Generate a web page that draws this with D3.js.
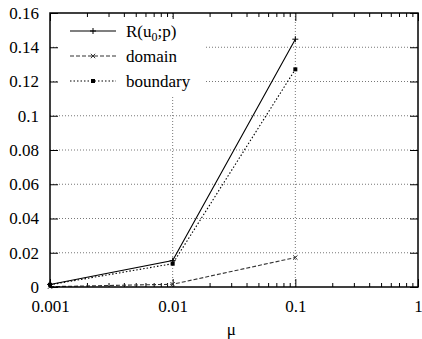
<!DOCTYPE html>
<html>
<head>
<meta charset="utf-8">
<script src="https://cdn.jsdelivr.net/npm/d3@7"></script>
<style>
  body { margin: 0; background: #fff; }
</style>
</head>
<body>
<div id="chart"></div>
<script>
// values
var mu = [0.001, 0.01, 0.1];
var rValues = [0.0015, 0.0154, 0.1447];
var domainValues = [0.0002, 0.0016, 0.0172];
var boundaryValues = [0.0013, 0.0136, 0.1271];
var seriesNames = ["R(u0;p)", "domain", "boundary"];
var xTicks = [0.001, 0.01, 0.1, 1];
var yTicks = [0, 0.02, 0.04, 0.06, 0.08, 0.1, 0.12, 0.14, 0.16];

var serif = "Liberation Serif";
var fontSize = 17;

var margin = {top: 13, right: 4, bottom: 52, left: 50},
    width = 422 - margin.left - margin.right,
    height = 339 - margin.top - margin.bottom;

var svg = d3.select("#chart")
  .append("svg")
  .attr("width", width + margin.left + margin.right)
  .attr("height", height + margin.top + margin.bottom)
  .append("g")
  .attr("transform", "translate(" + margin.left + "," + margin.top + ")");

var x = d3.scaleLog().domain([0.001, 1]).range([0, width]);
var y = d3.scaleLinear().domain([0, 0.16]).range([height, 0]);

// grid
svg.append("g").selectAll("line")
  .data(yTicks.filter(function(d) { return d > 0 && d < 0.16; }))
  .enter().append("line")
    .attr("x1", 0).attr("x2", width)
    .attr("y1", function(d) { return y(d); })
    .attr("y2", function(d) { return y(d); })
    .attr("stroke", "#777").attr("stroke-width", 1)
    .attr("stroke-dasharray", "1,2");
svg.append("g").selectAll("line")
  .data([0.01, 0.1])
  .enter().append("line")
    .attr("y1", 0).attr("y2", height)
    .attr("x1", function(d) { return x(d); })
    .attr("x2", function(d) { return x(d); })
    .attr("stroke", "#777").attr("stroke-width", 1)
    .attr("stroke-dasharray", "1,2");

// minor x ticks
var minor = [];
[0.001, 0.01, 0.1].forEach(function(dec) {
  for (var k = 2; k <= 9; k++) minor.push(dec * k);
});

// axes (ticks inward, mirrored)
var fmt = function(d) { return d3.format("~g")(d); };
svg.append("g")
  .attr("transform", "translate(0," + height + ")")
  .call(d3.axisBottom(x).tickValues(xTicks).tickFormat(fmt).tickSizeInner(-8).tickSizeOuter(0).tickPadding(13));
svg.append("g")
  .call(d3.axisTop(x).tickValues(xTicks).tickFormat("").tickSizeInner(-8).tickSizeOuter(0));
svg.append("g")
  .attr("transform", "translate(0," + height + ")")
  .call(d3.axisBottom(x).tickValues(minor).tickFormat("").tickSizeInner(-4).tickSizeOuter(0));
svg.append("g")
  .call(d3.axisTop(x).tickValues(minor).tickFormat("").tickSizeInner(-4).tickSizeOuter(0));
svg.append("g")
  .call(d3.axisLeft(y).tickValues(yTicks).tickFormat(fmt).tickSizeInner(-8).tickSizeOuter(0).tickPadding(11));
svg.append("g")
  .attr("transform", "translate(" + width + ",0)")
  .call(d3.axisRight(y).tickValues(yTicks).tickFormat("").tickSizeInner(-8).tickSizeOuter(0));

svg.selectAll(".domain").remove();
svg.selectAll(".tick line").attr("stroke", "#000");
svg.selectAll("g").attr("font-family", serif).attr("font-size", fontSize);
svg.selectAll(".tick text").attr("fill", "#000");

// legend background (covers grid)
svg.append("rect")
  .attr("x", 8).attr("y", 6).attr("width", 148).attr("height", 78)
  .attr("fill", "#fff");

// lines
var series = [
  {values: rValues, dash: null, color: "#000", marker: "plus"},
  {values: domainValues, dash: "4,2", color: "#333", marker: "cross"},
  {values: boundaryValues, dash: "1.5,2", color: "#000", marker: "square"}
];

var line = d3.line()
  .x(function(d) { return x(d[0]); })
  .y(function(d) { return y(d[1]); });

function drawMarker(g, kind, cx, cy, color) {
  if (kind === "plus") {
    g.append("path").attr("d", "M" + (cx - 3) + "," + cy + "H" + (cx + 3) + "M" + cx + "," + (cy - 3) + "V" + (cy + 3))
      .attr("stroke", color).attr("stroke-width", 1).attr("fill", "none");
  } else if (kind === "cross") {
    g.append("path").attr("d", "M" + (cx - 2.2) + "," + (cy - 2.2) + "L" + (cx + 2.2) + "," + (cy + 2.2) +
        "M" + (cx - 2.2) + "," + (cy + 2.2) + "L" + (cx + 2.2) + "," + (cy - 2.2))
      .attr("stroke", color).attr("stroke-width", 1).attr("fill", "none");
  } else {
    g.append("rect").attr("x", cx - 2).attr("y", cy - 2).attr("width", 4).attr("height", 4)
      .attr("fill", color);
  }
}

series.forEach(function(s, i) {
  var pts = mu.map(function(m, j) { return [m, s.values[j]]; });
  svg.append("path")
    .datum(pts)
    .attr("d", line)
    .attr("fill", "none")
    .attr("stroke", s.color)
    .attr("stroke-width", 1.1)
    .attr("stroke-dasharray", s.dash);
  var mg = svg.append("g");
  pts.forEach(function(p) { drawMarker(mg, s.marker, x(p[0]), y(p[1]), s.color); });

  // legend entry
  var ly = 18 + i * 25;
  svg.append("line")
    .attr("x1", 20).attr("x2", 66).attr("y1", ly).attr("y2", ly)
    .attr("stroke", s.color).attr("stroke-width", 1.1)
    .attr("stroke-dasharray", s.dash);
  drawMarker(svg.append("g"), s.marker, 43, ly, s.color);
});

// legend text
var lt = svg.append("g").attr("font-family", serif).attr("font-size", fontSize);
var t0 = lt.append("text").attr("x", 76).attr("y", 18).attr("dy", "0.35em");
t0.append("tspan").text("R(u");
t0.append("tspan").attr("dy", "4").attr("font-size", 12).text("0");
t0.append("tspan").attr("dy", "-4").text(";p)");
lt.append("text").attr("x", 76).attr("y", 43).attr("dy", "0.35em").text(seriesNames[1]);
lt.append("text").attr("x", 76).attr("y", 68).attr("dy", "0.35em").text(seriesNames[2]);

// frame
svg.append("rect")
  .attr("width", width).attr("height", height)
  .attr("fill", "none").attr("stroke", "#000").attr("stroke-width", 1.5);

// x label
svg.append("text")
  .attr("x", x(0.03)).attr("y", height + 48)
  .attr("text-anchor", "middle")
  .attr("font-family", serif)
  .attr("font-size", fontSize)
  .text("μ");
</script>
</body>
</html>
